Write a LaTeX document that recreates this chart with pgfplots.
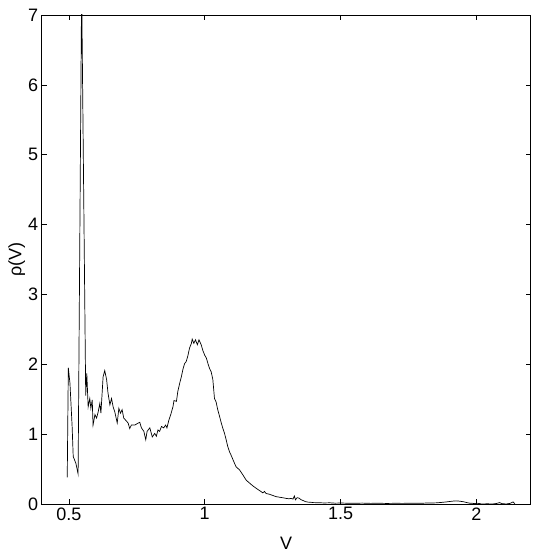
\documentclass[border=0pt]{standalone}
\usepackage{pgfplots}
\pgfplotsset{compat=1.18}
\usepackage{fontspec}
\setmainfont{Liberation Sans}
\begin{document}
\begin{tikzpicture}
\begin{axis}[
  scale only axis,
  width=489pt, height=489pt,
  xmin=0.4, xmax=2.2, ymin=0, ymax=7,
  xtick={0.5,1,1.5,2}, ytick={0,1,2,3,4,5,6,7},
  xticklabels={0.5,1,1.5,2},
  tick align=inside, xtick pos=both, ytick pos=both,
  major tick length=5pt,
  axis line style={black, line width=0.8pt},
  tick style={black, line width=0.6pt},
  /pgf/number format/assume math mode=true,
  ticklabel style={font=\fontsize{18}{21}\selectfont},
  xlabel={V}, ylabel={ρ(V)},
  every axis x label/.style={at={(axis description cs:0.5,-0.0798)}, anchor=center, font=\fontsize{18}{21}\selectfont},
  every axis y label/.style={at={(axis description cs:-0.051,0.5)}, anchor=center, rotate=90, font=\fontsize{18}{21}\selectfont},
  clip=true,
]
\addplot[black, line width=0.7pt] coordinates {
(0.494,0.38)(0.498,1.95)(0.504,1.73)(0.512,1.11)(0.516,0.68)(0.526,0.58)(0.534,0.43)
(0.547,7.4)(0.562,1.55)(0.566,1.87)(0.571,1.39)(0.577,1.51)(0.581,1.37)(0.586,1.49)
(0.589,1.13)(0.596,1.28)(0.602,1.23)(0.608,1.32)(0.614,1.44)(0.618,1.30)(0.626,1.82)
(0.632,1.91)(0.639,1.78)(0.644,1.59)(0.651,1.42)(0.657,1.51)(0.663,1.39)(0.669,1.32)
(0.678,1.16)(0.684,1.37)(0.690,1.30)(0.696,1.35)(0.702,1.23)(0.709,1.20)(0.718,1.16)
(0.724,1.08)(0.730,1.13)(0.743,1.13)(0.751,1.15)(0.761,1.17)(0.767,1.09)(0.776,1.04)
(0.783,0.92)(0.788,1.04)(0.798,1.09)(0.807,0.96)(0.816,1.01)(0.822,0.97)(0.828,1.06)
(0.834,1.04)(0.841,1.11)(0.849,1.09)(0.856,1.13)(0.861,1.09)(0.868,1.20)(0.875,1.28)
(0.883,1.39)(0.887,1.48)(0.896,1.47)(0.901,1.61)(0.908,1.73)(0.914,1.82)(0.920,1.93)
(0.926,2.01)(0.932,2.04)(0.938,2.12)(0.944,2.23)(0.951,2.30)(0.954,2.36)(0.960,2.30)
(0.966,2.35)(0.973,2.28)(0.979,2.35)(0.987,2.28)(0.993,2.20)(1.000,2.13)(1.006,2.09)
(1.012,2.01)(1.018,1.94)(1.024,1.89)(1.030,1.78)(1.036,1.51)(1.042,1.46)(1.048,1.35)
(1.055,1.25)(1.061,1.16)(1.067,1.08)(1.073,1.01)(1.079,0.92)(1.085,0.82)(1.091,0.75)
(1.097,0.70)(1.110,0.58)(1.116,0.53)(1.128,0.49)(1.140,0.42)(1.153,0.34)(1.165,0.30)
(1.177,0.26)(1.195,0.21)(1.214,0.16)(1.220,0.18)(1.226,0.15)(1.238,0.14)(1.263,0.105)
(1.287,0.09)(1.300,0.08)(1.310,0.075)(1.318,0.08)(1.325,0.07)(1.330,0.115)(1.334,0.06)
(1.340,0.09)(1.347,0.085)(1.355,0.06)(1.362,0.05)(1.370,0.035)(1.380,0.027)(1.390,0.025)
(1.400,0.02)(1.420,0.018)(1.440,0.015)(1.460,0.017)(1.480,0.012)(1.500,0.014)(1.520,0.012)
(1.550,0.010)(1.580,0.013)(1.610,0.009)(1.640,0.011)(1.670,0.008)(1.700,0.010)(1.730,0.009)
(1.760,0.012)(1.790,0.010)(1.820,0.014)(1.850,0.016)(1.870,0.022)(1.890,0.030)(1.910,0.040)
(1.925,0.045)(1.940,0.040)(1.955,0.030)(1.965,0.020)(1.975,0.012)(1.985,0.010)(1.995,0.005)
(2.005,0.010)(2.020,0.0)(2.040,0.003)(2.060,0.0)(2.075,0.008)(2.085,0.02)(2.095,0.005)
(2.110,0.0)(2.125,0.01)(2.135,0.03)(2.142,0.0)
};
\end{axis}
\pgfresetboundingbox
\useasboundingbox ([xshift=-41.7pt,yshift=-49pt]current axis.south west) rectangle ([xshift=5.3pt,yshift=15pt]current axis.north east);
\end{tikzpicture}
\end{document}
